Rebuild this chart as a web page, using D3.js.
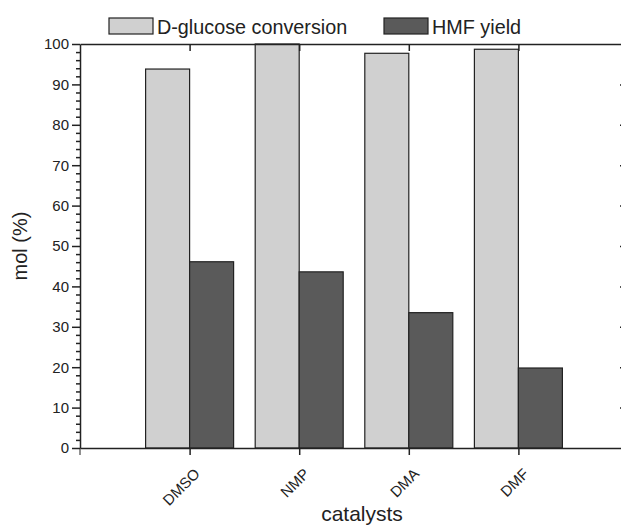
<!DOCTYPE html>
<html>
<head>
<meta charset="utf-8">
<script src="https://cdn.jsdelivr.net/npm/d3@7"></script>
<style>
  body { margin: 0; background: #fff; }
  text { font-family: "Liberation Sans", Arial, sans-serif; fill: #222; }
</style>
</head>
<body>
<script>
var catalysts = ['DMSO', 'NMP', 'DMA', 'DMF'];
var conversion = [93.8, 100, 97.7, 98.7];
var hmfYield = [46.1, 43.6, 33.5, 19.8];
var yTicks = [0, 10, 20, 30, 40, 50, 60, 70, 80, 90, 100];
var seriesNames = ['D-glucose conversion', 'HMF yield'];

var width = 621, height = 528;
var plotLeft = 80, plotRight = 628, plotTop = 44, plotBottom = 448;

var svg = d3.select('body').append('svg')
  .attr('width', width)
  .attr('height', height);

// categories sit at 0..3, the frame runs from -1 to 4
var x = d3.scaleLinear().domain([-1, 4]).range([plotLeft, plotRight]);
var y = d3.scaleLinear().domain([0, 100]).range([plotBottom, plotTop]);
var color = d3.scaleOrdinal().domain(seriesNames).range(['#d0d0d0', '#5a5a5a']);
var barW = 44;

var data = [];
catalysts.forEach(function (c, i) {
  data.push({ cat: i, series: seriesNames[0], value: conversion[i], off: -barW });
  data.push({ cat: i, series: seriesNames[1], value: hmfYield[i], off: 0 });
});

//bars
svg.selectAll('rect.bar')
  .data(data)
  .enter()
  .append('rect')
  .attr('class', 'bar')
  .attr('x', function (d) { return x(d.cat) + d.off; })
  .attr('y', function (d) { return y(d.value); })
  .attr('width', barW)
  .attr('height', function (d) { return y(0) - y(d.value); })
  .attr('fill', function (d) { return color(d.series); })
  .attr('stroke', '#222')
  .attr('stroke-width', 1.2);

//left axis, major and minor ticks
var minor = d3.range(0, 101, 2).filter(function (v) { return v % 10 !== 0; });
svg.append('g')
  .attr('transform', 'translate(' + plotLeft + ',0)')
  .call(d3.axisLeft(y).tickValues(minor).tickSize(4).tickFormat(''))
  .call(function (g) { g.select('.domain').remove(); });

var yAxis = svg.append('g')
  .attr('transform', 'translate(' + plotLeft + ',0)')
  .call(d3.axisLeft(y).tickValues(yTicks).tickSize(8).tickSizeOuter(0).tickPadding(3));
yAxis.selectAll('text').style('font-size', '15px');

//right axis
svg.append('g')
  .attr('transform', 'translate(' + plotRight + ',0)')
  .call(d3.axisLeft(y).tickValues(yTicks.slice(1, -1)).tickSizeInner(8).tickSizeOuter(0).tickFormat(''))
  .call(function (g) { g.selectAll('.tick line').attr('x2', -8); });

//bottom axis
var xAxis = svg.append('g')
  .attr('transform', 'translate(0,' + plotBottom + ')')
  .call(d3.axisBottom(x).tickValues([0, 1, 2, 3]).tickSize(7).tickSizeOuter(0)
    .tickFormat(function (d) { return catalysts[d]; }));
xAxis.selectAll('text')
  .style('font-size', '15px')
  .style('text-anchor', 'end')
  .attr('y', 0)
  .attr('dy', '0.35em')
  .attr('transform', 'translate(7,23) rotate(-45)');

//origin tick below the left axis
svg.append('line')
  .attr('x1', plotLeft).attr('x2', plotLeft)
  .attr('y1', plotBottom).attr('y2', plotBottom + 7)
  .attr('stroke', '#222');

//top axis
svg.append('g')
  .attr('transform', 'translate(0,' + plotTop + ')')
  .call(d3.axisTop(x).tickValues([0, 1, 2, 3]).tickSizeInner(-7).tickSizeOuter(0).tickFormat(''));

svg.selectAll('.domain, .tick line').attr('stroke', '#222').attr('stroke-width', 1.5);

//axis titles
svg.append('text')
  .attr('transform', 'translate(27,' + ((plotTop + plotBottom) / 2) + ') rotate(-90)')
  .attr('text-anchor', 'middle')
  .style('font-size', '20px')
  .text('mol (%)');

svg.append('text')
  .attr('x', 362)
  .attr('y', 521)
  .attr('text-anchor', 'middle')
  .style('font-size', '21px')
  .text('catalysts');

//legend
var legendX = [109, 384];
var legend = svg.selectAll('.legend')
  .data(seriesNames)
  .enter()
  .append('g')
  .attr('class', 'legend')
  .attr('transform', function (d, i) { return 'translate(' + legendX[i] + ',18)'; });

legend.append('rect')
  .attr('width', 44)
  .attr('height', 16)
  .attr('fill', color)
  .attr('stroke', '#222')
  .attr('stroke-width', 1.2);

legend.append('text')
  .attr('x', 48)
  .attr('y', 15.5)
  .style('font-size', '19.8px')
  .text(function (d) { return d; });
</script>
</body>
</html>
